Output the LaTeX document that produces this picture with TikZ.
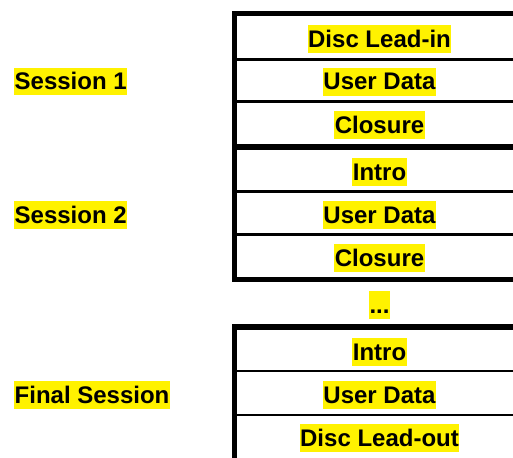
\documentclass[tikz,border=0pt]{standalone}
\usepackage{fontspec}
\setmainfont{Liberation Sans}
\begin{document}
\begin{tikzpicture}[x=1pt,y=-1pt,
  hl/.style={fill=yellow, inner xsep=0.5pt, inner ysep=0.5pt, text height=21.7pt, text depth=5.1pt,
    font=\fontsize{24}{28}\selectfont\bfseries},
  rowtxt/.style={hl, anchor=center},
  lbl/.style={hl, anchor=west},
  thick line/.style={line width=5.5pt},
  thin line/.style={line width=2.5pt}]
\useasboundingbox (0,0) rectangle (513,457);
\clip (0,0) rectangle (513,457);
\fill[white] (0,0) rectangle (513,457);
% coordinates
\coordinate (s1tl) at (234.5,13.5);
\coordinate (s1tr) at (530,13.5);
\coordinate (s2tl) at (234.5,147);
\coordinate (s2tr) at (530,147);
\coordinate (s2bl) at (234.5,279.7);
\coordinate (s2br) at (530,279.7);
\coordinate (s3tl) at (234.5,327);
\coordinate (s3tr) at (530,327);
\coordinate (s3bl) at (234.5,470);
% thin separators
\foreach \y in {59.5,101.5,191.7,234.7,371,415}
  \draw[thin line] (234.5,\y) -- (530,\y);
% thick frames
\draw[thick line, line cap=rect] (s1tr) -- (s1tl) -- (s2bl) -- (s2br);
\draw[thick line] (s2tl) -- (s2tr);
\draw[thick line, line cap=rect] (s3tr) -- (s3tl) -- (s3bl);
% row texts
\node[rowtxt] (a1) at (379.5,39) {Disc Lead-in};
\node[rowtxt] (a2) at (379.5,81.7) {User Data};
\node[rowtxt] (a3) at (379.5,125) {Closure};
\node[rowtxt] (b1) at (379.5,172) {Intro};
\node[rowtxt] (b2) at (379.5,215) {User Data};
\node[rowtxt] (b3) at (379.5,258) {Closure};
\node[rowtxt] (dots) at (379.5,305) {...};
\node[rowtxt] (c1) at (379.5,352) {Intro};
\node[rowtxt] (c2) at (379.5,395) {User Data};
\node[rowtxt] (c3) at (379.5,438) {Disc Lead-out};
% labels
\node[lbl] (l1) at (14,81.5) {Session 1};
\node[lbl] (l2) at (14,215.3) {Session 2};
\node[lbl] (l3) at (14,395.3) {Final Session};
\end{tikzpicture}
\end{document}
